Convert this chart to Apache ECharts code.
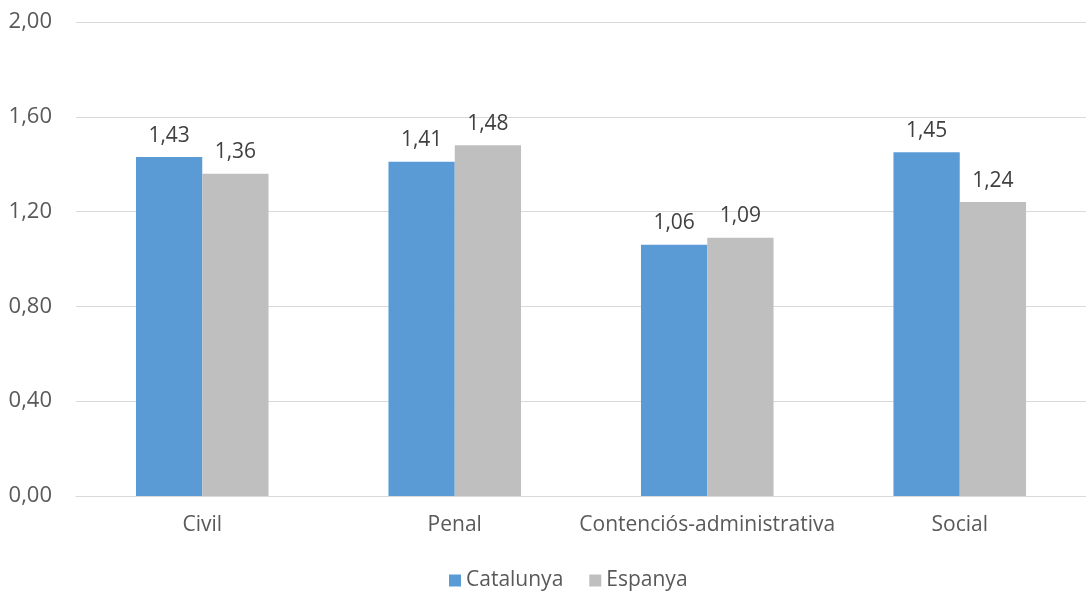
<!DOCTYPE html>
<html>
<head>
<meta charset="utf-8">
<script src="https://cdn.jsdelivr.net/npm/echarts@6/dist/echarts.min.js"></script>
<style>
html,body{margin:0;padding:0;background:#fff;}
#chart{width:1086px;height:592px;}
</style>
</head>
<body>
<div id="chart"></div>
<script>
const categories = ['Civil', 'Penal', 'Contenciós-administrativa', 'Social'];
const catalunya = [1.43, 1.41, 1.06, 1.45];
const espanya = [1.36, 1.48, 1.09, 1.24];
const yTicks = [0, 0.4, 0.8, 1.2, 1.6, 2.0];

const fmt = v => v.toFixed(2).replace('.', ',');
const font = 'Open Sans, Noto Sans, sans-serif';
const chart = echarts.init(document.getElementById('chart'));
const labelStyle = {
  show: true, position: 'top', distance: 11,
  color: '#404040', fontSize: 21, fontFamily: font,
  formatter: p => fmt(p.value)
};
chart.setOption({
  animation: false,
  textStyle: { fontFamily: font },
  grid: { left: 76, right: -14, top: 22, bottom: 96 },
  legend: {
    top: 565, left: 444,
    itemWidth: 12, itemHeight: 12, itemGap: 26,
    icon: 'rect',
    textStyle: { color: '#595959', fontSize: 21, fontFamily: font },
    data: ['Catalunya', 'Espanya']
  },
  xAxis: {
    type: 'category', data: categories,
    axisLine: { lineStyle: { color: '#d9d9d9', width: 1 } },
    axisTick: { show: false },
    axisLabel: { color: '#595959', fontSize: 21, margin: 19, fontFamily: font, interval: 0 }
  },
  yAxis: {
    type: 'value', min: yTicks[0], max: yTicks[yTicks.length - 1], interval: 0.4,
    axisLine: { show: false }, axisTick: { show: false },
    splitLine: { lineStyle: { color: '#d9d9d9', width: 1 } },
    axisLabel: { color: '#595959', fontSize: 22, margin: 24, fontFamily: font, formatter: v => fmt(v) }
  },
  series: [
    { name: 'Catalunya', type: 'bar', data: catalunya, barGap: '0%', barCategoryGap: '47.5%',
      itemStyle: { color: '#5B9BD5' }, label: labelStyle },
    { name: 'Espanya', type: 'bar', data: espanya, barGap: '0%', barCategoryGap: '47.5%',
      itemStyle: { color: '#BFBFBF' }, label: labelStyle }
  ]
});
</script>
</body>
</html>
